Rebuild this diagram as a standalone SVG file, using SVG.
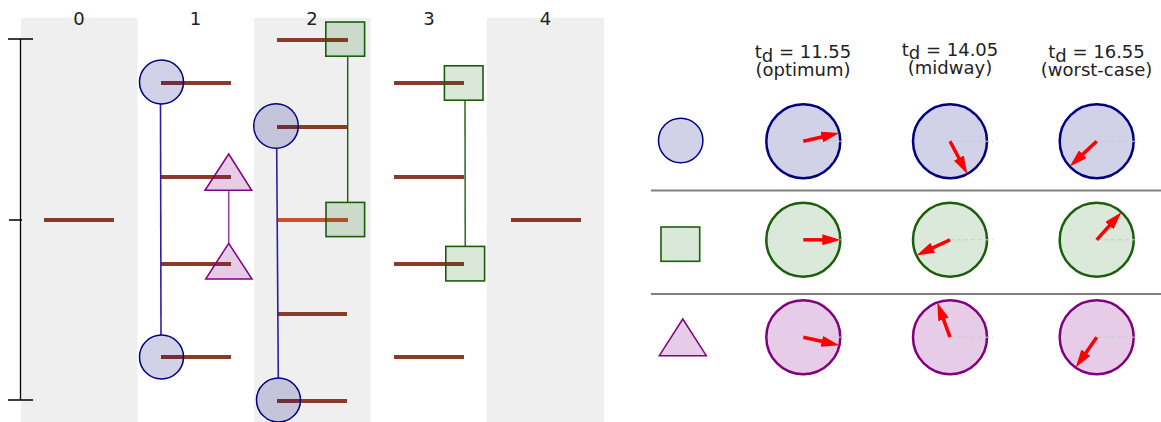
<svg xmlns="http://www.w3.org/2000/svg" width="1161" height="422" viewBox="0 0 1161 422">
<style>
text{font-family:"DejaVu Sans","Liberation Sans",sans-serif;fill:#222;}
.lbl{font-size:18px;text-anchor:middle;}
.hdr{font-size:18px;text-anchor:middle;}
.bg{fill:#efefef;}
.bar{stroke:#8a3b28;stroke-width:4;}
.barhi{stroke:#c8502e;stroke-width:4;}
.circ{fill:#000080;fill-opacity:0.18;stroke:#000080;stroke-width:1.5;}
.sq{fill:#006400;fill-opacity:0.15;stroke:#1a5e0a;stroke-width:1.6;}
.tri{fill:#800080;fill-opacity:0.2;stroke:#800080;stroke-width:1.5;}
.bline{stroke:#2a20a8;stroke-width:1.6;fill:none;}
.gline{stroke:#1a5e0a;stroke-width:1.4;fill:none;}
.pline{stroke:#a040a8;stroke-width:1.6;fill:none;}
.axis{stroke:#000;stroke-width:1.3;fill:none;}
.sep{stroke:#808080;stroke-width:2;}
.bc{fill:#000080;fill-opacity:0.18;stroke:#000080;stroke-width:2.5;}
.gc{fill:#006400;fill-opacity:0.14;stroke:#1a5e0a;stroke-width:2.5;}
.pc{fill:#800080;fill-opacity:0.2;stroke:#800080;stroke-width:2.5;}
.dash{stroke:#c8c8d0;stroke-width:1;stroke-dasharray:4,3;}
.arr{stroke:#ff0000;stroke-width:3.5;marker-end:url(#ah);}
</style>
<defs>
<marker id="ah" markerUnits="userSpaceOnUse" markerWidth="18" markerHeight="11" refX="9" refY="5.5" orient="auto" viewBox="0 0 18 11">
<path d="M0,0 L18,5.5 L0,11 z" fill="#ff0000"/>
</marker>
</defs>
<g id="columns">
<rect class="bg" x="21" y="18" width="116.5" height="404"/>
<rect class="bg" x="254" y="18" width="116.5" height="404"/>
<rect class="bg" x="487" y="18" width="117" height="404"/>
<text class="lbl" x="79" y="25">0</text>
<text class="lbl" x="195.5" y="25">1</text>
<text class="lbl" x="312" y="25">2</text>
<text class="lbl" x="429" y="25">3</text>
<text class="lbl" x="545.5" y="25">4</text>
</g>
<g id="axis">
<path class="axis" d="M20.5,39 V400 M8,39 H33 M9,220 H22 M8,400 H33"/>
</g>
<g id="bars">
<line class="bar" x1="44" y1="220" x2="114" y2="220"/>
<line class="bar" x1="161" y1="83" x2="231" y2="83"/>
<line class="bar" x1="161" y1="177" x2="231" y2="177"/>
<line class="bar" x1="161" y1="264" x2="231" y2="264"/>
<line class="bar" x1="161" y1="357" x2="231" y2="357"/>
<line class="bar" x1="277" y1="40" x2="348" y2="40"/>
<line class="bar" x1="277" y1="127" x2="348" y2="127"/>
<line class="barhi" x1="277" y1="220" x2="348" y2="220"/>
<line class="bar" x1="277" y1="314" x2="347" y2="314"/>
<line class="bar" x1="277" y1="401" x2="347" y2="401"/>
<line class="bar" x1="394" y1="83" x2="464" y2="83"/>
<line class="bar" x1="394" y1="177" x2="464" y2="177"/>
<line class="bar" x1="394" y1="264" x2="464" y2="264"/>
<line class="bar" x1="394" y1="357" x2="464" y2="357"/>
<line class="bar" x1="511" y1="220" x2="581" y2="220"/>
</g>
<g id="connectors">
<line class="bline" x1="160.5" y1="104" x2="161" y2="335"/>
<line class="bline" x1="276.7" y1="148.5" x2="278.3" y2="378"/>
<line class="pline" x1="228.7" y1="190" x2="228.7" y2="243.5"/>
<line class="gline" x1="347.7" y1="56" x2="347.7" y2="202.5"/>
<line class="gline" x1="465" y1="100.3" x2="465.2" y2="246.3"/>
</g>
<g id="node-c1a"><circle class="circ" cx="161.5" cy="82" r="22"/></g>
<g id="node-c1b"><circle class="circ" cx="161.5" cy="357" r="22"/></g>
<g id="node-c2a"><circle class="circ" cx="276" cy="126" r="22.3"/></g>
<g id="node-c2b"><circle class="circ" cx="278.5" cy="400" r="22"/></g>
<g id="node-t1a"><polygon class="tri" points="228.7,154 205,190.3 251.7,190.3"/></g>
<g id="node-t1b"><polygon class="tri" points="228.7,243.3 205.7,279 252,279"/></g>
<g id="node-s2a"><rect class="sq" x="325.8" y="22" width="38.8" height="34.2"/></g>
<g id="node-s2b"><rect class="sq" x="326" y="202.4" width="38.6" height="34.2"/></g>
<g id="node-s3a"><rect class="sq" x="444.4" y="65.8" width="38.6" height="34.4"/></g>
<g id="node-s3b"><rect class="sq" x="445.8" y="246.4" width="38.8" height="34.5"/></g>
<g id="headers">
<text class="hdr" x="803" y="58">t<tspan dy="3.5">d</tspan><tspan dy="-3.5"> = 11.55</tspan></text>
<text class="hdr" x="803" y="75.5">(optimum)</text>
<text class="hdr" x="950" y="55.5">t<tspan dy="3.5">d</tspan><tspan dy="-3.5"> = 14.05</tspan></text>
<text class="hdr" x="950" y="73.5">(midway)</text>
<text class="hdr" x="1096.5" y="58">t<tspan dy="3.5">d</tspan><tspan dy="-3.5"> = 16.55</tspan></text>
<text class="hdr" x="1096.5" y="75.5">(worst-case)</text>
</g>
<g id="separators">
<line class="sep" x1="651" y1="190.5" x2="1161" y2="190.5"/>
<line class="sep" x1="651" y1="294" x2="1161" y2="294"/>
</g>
<g id="legend-circle"><circle class="circ" cx="680.7" cy="140.5" r="22.2" stroke-width="1.2"/></g>
<g id="legend-square"><rect class="sq" x="661" y="227" width="38.7" height="34.3" stroke-width="1.3"/></g>
<g id="legend-triangle"><polygon class="tri" points="682.8,319 659.3,355.7 706.3,355.7"/></g>
<g id="dial-r1c1"><circle class="bc" cx="803.3" cy="141.3" r="37"/><line class="dash" x1="803.3" y1="141.3" x2="846" y2="141.3"/><line class="arr" x1="803.3" y1="141.3" x2="830.5" y2="135.0"/></g>
<g id="dial-r1c2"><circle class="bc" cx="950" cy="141.3" r="37"/><line class="dash" x1="950" y1="141.3" x2="993" y2="141.3"/><line class="arr" x1="950" y1="141.3" x2="963.1" y2="166.0"/></g>
<g id="dial-r1c3"><circle class="bc" cx="1096.7" cy="141.3" r="37"/><line class="dash" x1="1096.7" y1="141.3" x2="1139.5" y2="141.3"/><line class="arr" x1="1096.7" y1="141.3" x2="1076.3" y2="160.4"/></g>
<g id="dial-r2c1"><circle class="gc" cx="803.3" cy="239.8" r="37"/><line class="dash" x1="803.3" y1="239.8" x2="846" y2="239.8"/><line class="arr" x1="803.3" y1="239.8" x2="831.3" y2="239.8"/></g>
<g id="dial-r2c2"><circle class="gc" cx="950" cy="239.8" r="37"/><line class="dash" x1="950" y1="239.8" x2="993" y2="239.8"/><line class="arr" x1="950" y1="239.8" x2="924.6" y2="251.6"/></g>
<g id="dial-r2c3"><circle class="gc" cx="1096.7" cy="239.8" r="37"/><line class="dash" x1="1096.7" y1="239.8" x2="1139.5" y2="239.8"/><line class="arr" x1="1096.7" y1="239.8" x2="1115.4" y2="219.0"/></g>
<g id="dial-r3c1"><circle class="pc" cx="803.3" cy="337.2" r="37"/><line class="dash" x1="803.3" y1="337.2" x2="846" y2="337.2"/><line class="arr" x1="803.3" y1="337.2" x2="830.6" y2="343.3"/></g>
<g id="dial-r3c2"><circle class="pc" cx="950" cy="337.2" r="37"/><line class="dash" x1="950" y1="337.2" x2="993" y2="337.2"/><line class="arr" x1="950" y1="337.2" x2="940.4" y2="310.9"/></g>
<g id="dial-r3c3"><circle class="pc" cx="1096.7" cy="337.2" r="37"/><line class="dash" x1="1096.7" y1="337.2" x2="1139.5" y2="337.2"/><line class="arr" x1="1096.7" y1="337.2" x2="1080.8" y2="360.2"/></g>
</svg>
